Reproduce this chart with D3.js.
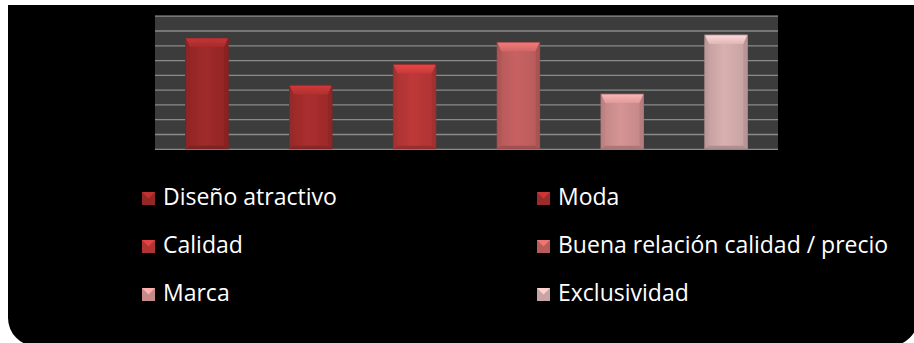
<!DOCTYPE html>
<html>
<head>
<meta charset="utf-8">
<script src="https://cdn.jsdelivr.net/npm/d3@7"></script>
<style>
  html, body { margin: 0; padding: 0; background: #ffffff; }
  svg { display: block; }
</style>
</head>
<body>
<svg id="chart" width="914" height="343"></svg>
<script>
// Motivos de compra (porcentaje de respuestas)
const categories = ["Diseño atractivo", "Moda", "Calidad", "Buena relación calidad / precio", "Marca", "Exclusividad"];
const values = [37.5, 21.5, 28.5, 36, 18.5, 38.5];
const colors = ["#a02a2a", "#aa2e2e", "#be3838", "#c86262", "#d69494", "#d8b0b0"];
const yTicks = [0, 5, 10, 15, 20, 25, 30, 35, 40, 45];

const svg = d3.select("#chart");

// Black panel with rounded bottom corners
const px = 8, py = 5, pr = 918, pb = 346, rad = 28;
svg.append("path")
  .attr("d", `M${px},${py} H${pr} V${pb - rad} A${rad},${rad} 0 0 1 ${pr - rad},${pb} H${px + rad} A${rad},${rad} 0 0 1 ${px},${pb - rad} Z`)
  .attr("fill", "#000");

// Plot area
const plot = { left: 155, right: 778, top: 15.7, bottom: 148.8 };

const x = d3.scaleBand()
  .domain(categories)
  .range([plot.left, plot.right])
  .paddingInner(0.59)
  .paddingOuter(0.295);

const y = d3.scaleLinear()
  .domain([0, 45])
  .range([plot.bottom, plot.top]);

svg.append("rect")
  .attr("x", plot.left).attr("y", plot.top)
  .attr("width", plot.right - plot.left)
  .attr("height", plot.bottom - plot.top + 0.8)
  .attr("fill", "#3c3c3c");

// Gridlines from the y axis, labels hidden
const yAxis = d3.axisLeft(y).tickValues(yTicks).tickSize(-(plot.right - plot.left)).tickFormat("");
const gAxis = svg.append("g").attr("transform", `translate(${plot.left},0)`).call(yAxis);
gAxis.select(".domain").remove();
gAxis.selectAll(".tick line").attr("stroke", "#8a8a8a").attr("stroke-width", 1.3);

const defs = svg.append("defs");
colors.forEach((c, i) => {
  const g = defs.append("linearGradient").attr("id", "bar" + i)
    .attr("x1", 0).attr("x2", 1).attr("y1", 0).attr("y2", 0);
  g.append("stop").attr("offset", 0).attr("stop-color", d3.color(c).darker(0.3));
  g.append("stop").attr("offset", 0.45).attr("stop-color", c);
  g.append("stop").attr("offset", 1).attr("stop-color", d3.color(c).darker(0.25));
  const tg = defs.append("linearGradient").attr("id", "top" + i)
    .attr("x1", 0).attr("x2", 0).attr("y1", 0).attr("y2", 1);
  tg.append("stop").attr("offset", 0).attr("stop-color", d3.color(c).brighter(0.6));
  tg.append("stop").attr("offset", 1).attr("stop-color", d3.color(c).brighter(0.1));
});
defs.append("filter").attr("id", "soft")
  .append("feGaussianBlur").attr("stdDeviation", 0.6);

// Beveled bars
const bars = svg.append("g").attr("filter", "url(#soft)");
categories.forEach((cat, i) => {
  const x0 = x(cat), x1 = x0 + x.bandwidth();
  const t = y(values[i]), b = y(0);
  const bv = 4, bt = 9, bb = 3;
  const c = colors[i];
  const g = bars.append("g");
  g.append("rect").attr("x", x0).attr("y", t).attr("width", x1 - x0).attr("height", b - t)
    .attr("fill", `url(#bar${i})`);
  // top bevel
  g.append("path")
    .attr("d", `M${x0},${t} L${x1},${t} L${x1 - bv},${t + bt} L${x0 + bv},${t + bt} Z`)
    .attr("fill", `url(#top${i})`);
  // left bevel
  g.append("path")
    .attr("d", `M${x0},${t} L${x0 + bv},${t + bt} L${x0 + bv},${b - bb} L${x0},${b} Z`)
    .attr("fill", d3.color(c).darker(0.35));
  // right bevel
  g.append("path")
    .attr("d", `M${x1},${t} L${x1 - bv},${t + bt} L${x1 - bv},${b - bb} L${x1},${b} Z`)
    .attr("fill", d3.color(c).darker(0.45));
  // bottom bevel
  g.append("path")
    .attr("d", `M${x0},${b} L${x0 + bv},${b - bb} L${x1 - bv},${b - bb} L${x1},${b} Z`)
    .attr("fill", d3.color(c).darker(0.6));
  g.append("rect").attr("x", x0).attr("y", t).attr("width", x1 - x0).attr("height", b - t)
    .attr("fill", "none").attr("stroke", d3.color(c).darker(0.7)).attr("stroke-width", 0.8);
});

// Legend: two columns, three rows
const legendCols = [142, 537];
const legendRows = [205, 253, 301];
const legend = svg.append("g");
categories.forEach((cat, i) => {
  const col = i % 2, row = Math.floor(i / 2);
  const lx = legendCols[col], ly = legendRows[row];
  const s = 13, c = colors[i];
  const g = legend.append("g");
  g.append("rect").attr("x", lx).attr("y", ly - s).attr("width", s).attr("height", s)
    .attr("fill", d3.color(c).darker(0.2));
  g.append("path")
    .attr("d", `M${lx},${ly - s} L${lx + s},${ly - s} L${lx + s / 2},${ly - s / 2} Z`)
    .attr("fill", d3.color(c).brighter(0.5));
  g.append("text")
    .attr("x", lx + 21).attr("y", ly)
    .attr("fill", "#ffffff")
    .attr("font-family", "'Open Sans', 'DejaVu Sans', sans-serif")
    .attr("font-size", 23)
    .text(cat);
});
</script>
</body>
</html>
